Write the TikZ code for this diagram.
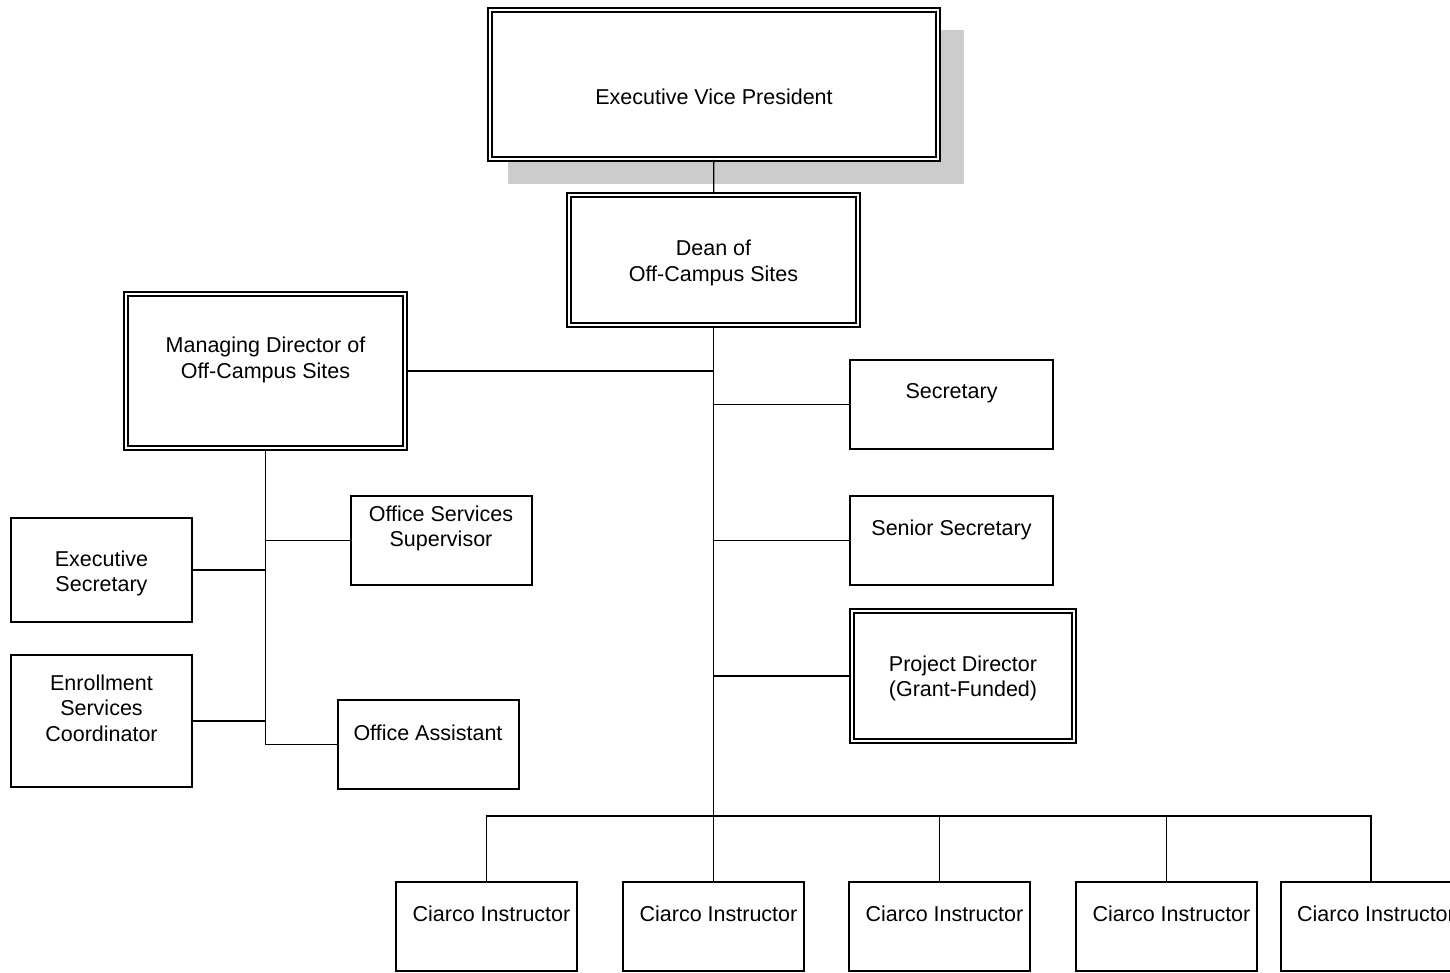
\documentclass[tikz,border=0pt]{standalone}
\usepackage{fontspec}
\setmainfont{Liberation Sans}
\tikzset{
	x=1pt, y=-1pt,
	every node/.style={font=\fontsize{21.5}{25.5}\selectfont},
	every label/.style={align=center},
	box/.style={draw, line width=2pt, fill=white, inner sep=0pt},
	dbox/.style={box, double, line width=1.8pt, double distance=2.2pt},
	link/.style={line width=1.4pt}}

\begin{document}
\begin{tikzpicture}
		\useasboundingbox (0,0) rectangle (1450,973);

		\fill[black!20] (508,30) rectangle (964,184);
		\node[dbox, minimum width=448pt, minimum height=149pt, label={[yshift=-12pt]center:Executive Vice President}] (evp) at (714,84.5) {};
		\node[dbox, minimum width=289pt, minimum height=130pt, label={[yshift=-3pt]center:Dean of\\Off-Campus Sites}] (dean) at (713.5,260) {};
		\node[dbox, minimum width=279pt, minimum height=154pt, label={[yshift=11pt]center:Managing Director of\\Off-Campus Sites}] (md) at (265.5,371) {};
		\node[box, minimum width=203pt, minimum height=89pt, label={[yshift=11pt]center:Secretary}] (sec) at (951.5,404.5) {};
		\node[box, minimum width=203pt, minimum height=89pt, label={[yshift=11pt]center:Senior Secretary}] (ssec) at (951.5,540.5) {};
		\node[dbox, minimum width=222pt, minimum height=130pt, label={[yshift=-2.5pt]center:Project Director\\(Grant-Funded)}] (pd) at (963,676) {};
		\node[box, minimum width=181pt, minimum height=89pt, label={[yshift=12pt]center:Office Services\\Supervisor}] (oss) at (441,540.5) {};
		\node[box, minimum width=181pt, minimum height=104pt, label={[yshift=-3.5pt]center:Executive\\Secretary}] (es) at (101.5,570) {};
		\node[box, minimum width=181pt, minimum height=132pt, label={[yshift=13pt]center:Enrollment\\Services\\Coordinator}] (esc) at (101.5,721) {};
		\node[box, minimum width=181pt, minimum height=89pt, label={[yshift=12pt]center:Office Assistant}] (oa) at (428,744.5) {};
		\foreach \i/\x in {1/486.5, 2/713.5, 3/939.5, 4/1166.5, 5/1371}
			\node[box, minimum width=181pt, minimum height=89pt, label={[xshift=5pt, yshift=12.5pt]center:Ciarco Instructor}] (ci\i) at (\x,926.5) {};

		\coordinate (bus) at (713.5,816);
		\draw[link] (evp) -- (dean);
		\draw[link] (dean) -- (bus);
		\draw[link] (md.east) -- (md.east -| bus);
		\draw[link] (sec.west) -- (sec.west -| bus);
		\draw[link] (ssec.west) -- (ssec.west -| bus);
		\draw[link] (pd.west) -- (pd.west -| bus);
		\draw[link] (ci1.north) -- (ci1.north |- bus) -- (ci5.north |- bus) -- (ci5.north);
		\foreach \i in {2,3,4}
			\draw[link] (ci\i.north) -- (ci\i.north |- bus);
		\draw[link] (md) |- (oa);
		\draw[link] (oss.west) -- (oss.west -| md.south);
		\draw[link] (es.east) -- (es.east -| md.south);
		\draw[link] (esc.east) -- (esc.east -| md.south);
	\end{tikzpicture}
\end{document}
